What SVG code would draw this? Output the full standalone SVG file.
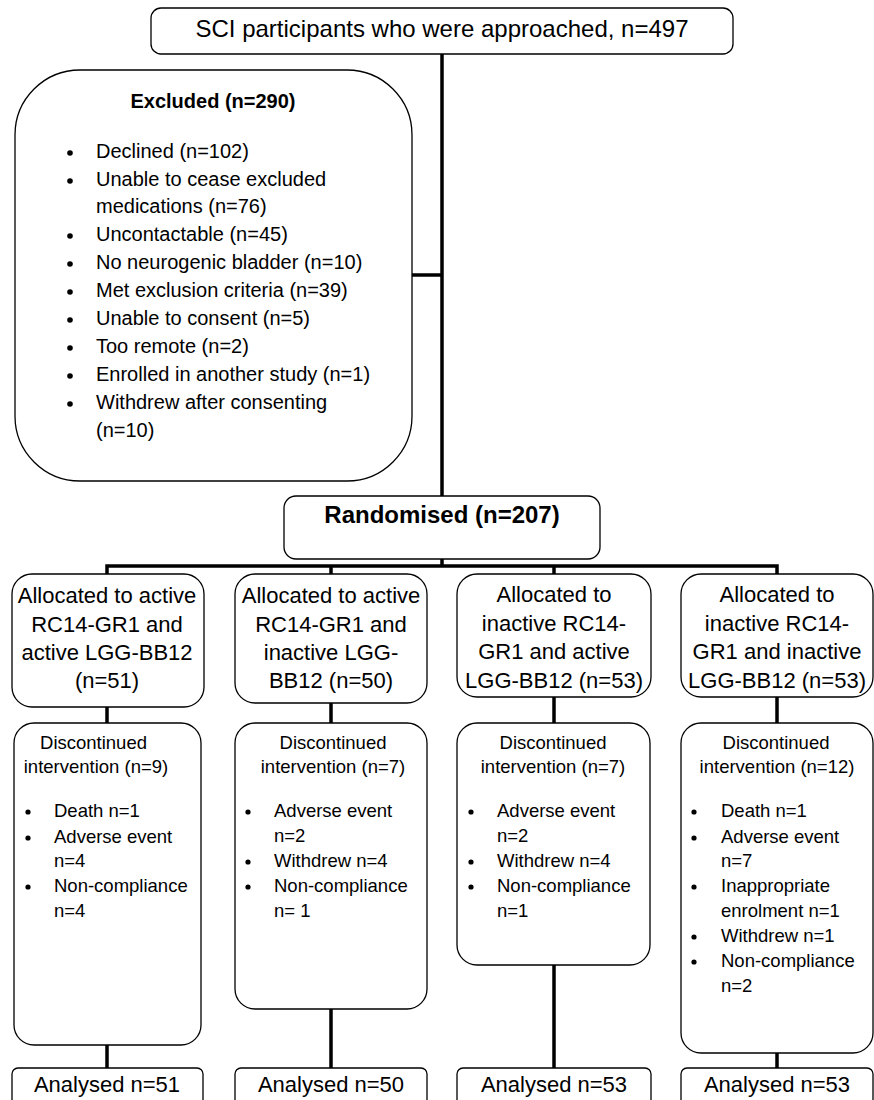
<svg xmlns="http://www.w3.org/2000/svg" width="874" height="1100" viewBox="0 0 874 1100">
<style>
  .box { fill: #fff; stroke: #000; stroke-width: 1.3; }
  .conn { stroke: #000; stroke-width: 3.5; fill: none; stroke-linecap: butt; }
  text { font-family: "Liberation Sans", Arial, sans-serif; fill: #000; }
  .t24 { font-size: 24px; }
  .b24 { font-size: 24px; font-weight: bold; }
  .b20 { font-size: 20px; font-weight: bold; }
  .t20 { font-size: 20px; }
  .t22 { font-size: 22px; }
  .t18 { font-size: 18.5px; }
  .c { text-anchor: middle; }
  .dot { fill: #000; }
</style>
<rect width="874" height="1100" fill="#fff"/>
<g id="connectors">
  <line class="conn" x1="442" y1="54" x2="442" y2="497"/>
  <line class="conn" x1="412" y1="275" x2="442" y2="275"/>
  <line class="conn" x1="442" y1="559" x2="442" y2="566"/>
  <polyline class="conn" points="107,574 107,566 777,566 777,574"/>
  <line class="conn" x1="331" y1="566" x2="331" y2="574"/>
  <line class="conn" x1="554" y1="566" x2="554" y2="574"/>
  <line class="conn" x1="107" y1="707" x2="107" y2="723"/>
  <line class="conn" x1="331" y1="703" x2="331" y2="723"/>
  <line class="conn" x1="554" y1="697" x2="554" y2="723"/>
  <line class="conn" x1="777" y1="697" x2="777" y2="723"/>
  <line class="conn" x1="107" y1="1045" x2="107" y2="1068"/>
  <line class="conn" x1="331" y1="1009" x2="331" y2="1068"/>
  <line class="conn" x1="554" y1="965" x2="554" y2="1068"/>
  <line class="conn" x1="777" y1="1053" x2="777" y2="1068"/>
</g>
<g id="approached">
  <rect class="box" x="151" y="8" width="582" height="46" rx="10"/>
  <text class="t24 c" x="442" y="37">SCI participants who were approached, n=497</text>
</g>
<g id="excluded">
  <rect class="box" x="15" y="70" width="397" height="411" rx="65"/>
  <text class="b20 c" x="213" y="108">Excluded (n=290)</text>
  <g class="t20">
    <circle class="dot" cx="70" cy="153" r="2.8"/><text x="96" y="158">Declined (n=102)</text>
    <circle class="dot" cx="70" cy="181" r="2.8"/><text x="96" y="186">Unable to cease excluded</text>
    <text x="96" y="213">medications (n=76)</text>
    <circle class="dot" cx="70" cy="236" r="2.8"/><text x="96" y="241">Uncontactable (n=45)</text>
    <circle class="dot" cx="70" cy="264" r="2.8"/><text x="96" y="269">No neurogenic bladder (n=10)</text>
    <circle class="dot" cx="70" cy="292" r="2.8"/><text x="96" y="297">Met exclusion criteria (n=39)</text>
    <circle class="dot" cx="70" cy="320" r="2.8"/><text x="96" y="325">Unable to consent (n=5)</text>
    <circle class="dot" cx="70" cy="348" r="2.8"/><text x="96" y="353">Too remote (n=2)</text>
    <circle class="dot" cx="70" cy="376" r="2.8"/><text x="96" y="381">Enrolled in another study (n=1)</text>
    <circle class="dot" cx="70" cy="404" r="2.8"/><text x="96" y="409">Withdrew after consenting</text>
    <text x="96" y="437">(n=10)</text>
  </g>
</g>
<g id="randomised">
  <rect class="box" x="284" y="496" width="316" height="63" rx="12"/>
  <text class="b24 c" x="442" y="523">Randomised (n=207)</text>
</g>
<g id="alloc1">
  <rect class="box" x="12" y="574" width="192" height="133" rx="20"/>
  <g class="t22 c">
    <text x="107" y="603">Allocated to active</text>
    <text x="107" y="632">RC14-GR1 and</text>
    <text x="107" y="660">active LGG-BB12</text>
    <text x="107" y="688">(n=51)</text>
  </g>
</g>
<g id="alloc2">
  <rect class="box" x="235" y="574" width="192" height="129" rx="20"/>
  <g class="t22 c">
    <text x="331" y="603">Allocated to active</text>
    <text x="331" y="632">RC14-GR1 and</text>
    <text x="331" y="660">inactive LGG-</text>
    <text x="331" y="688">BB12 (n=50)</text>
  </g>
</g>
<g id="alloc3">
  <rect class="box" x="457" y="574" width="194" height="123" rx="20"/>
  <g class="t22 c">
    <text x="554" y="602">Allocated to</text>
    <text x="554" y="631">inactive RC14-</text>
    <text x="554" y="659">GR1 and active</text>
    <text x="554" y="688">LGG-BB12 (n=53)</text>
  </g>
</g>
<g id="alloc4">
  <rect class="box" x="681" y="574" width="192" height="123" rx="20"/>
  <g class="t22 c">
    <text x="777" y="602">Allocated to</text>
    <text x="777" y="631">inactive RC14-</text>
    <text x="777" y="659">GR1 and inactive</text>
    <text x="777" y="688">LGG-BB12 (n=53)</text>
  </g>
</g>
<g id="disc1">
  <rect class="box" x="14" y="723" width="187" height="322" rx="20"/>
  <g class="t18">
    <text class="c" x="93.5" y="749">Discontinued</text>
    <text class="c" x="96" y="773">intervention (n=9)</text>
    <circle class="dot" cx="28" cy="812" r="2.6"/><text x="54" y="817">Death n=1</text>
    <circle class="dot" cx="28" cy="838" r="2.6"/><text x="54" y="843">Adverse event</text>
    <text x="54" y="867">n=4</text>
    <circle class="dot" cx="28" cy="887" r="2.6"/><text x="54" y="892">Non-compliance</text>
    <text x="54" y="917">n=4</text>
  </g>
</g>
<g id="disc2">
  <rect class="box" x="235" y="723" width="192" height="286" rx="20"/>
  <g class="t18">
    <text class="c" x="333" y="749">Discontinued</text>
    <text class="c" x="333" y="773">intervention (n=7)</text>
    <circle class="dot" cx="248" cy="812" r="2.6"/><text x="274" y="817">Adverse event</text>
    <text x="274" y="842">n=2</text>
    <circle class="dot" cx="248" cy="862" r="2.6"/><text x="274" y="867">Withdrew n=4</text>
    <circle class="dot" cx="248" cy="887" r="2.6"/><text x="274" y="892">Non-compliance</text>
    <text x="274" y="917">n= 1</text>
  </g>
</g>
<g id="disc3">
  <rect class="box" x="457" y="723" width="193" height="242" rx="20"/>
  <g class="t18">
    <text class="c" x="553" y="749">Discontinued</text>
    <text class="c" x="553" y="773">intervention (n=7)</text>
    <circle class="dot" cx="471" cy="812" r="2.6"/><text x="497" y="817">Adverse event</text>
    <text x="497" y="842">n=2</text>
    <circle class="dot" cx="471" cy="862" r="2.6"/><text x="497" y="867">Withdrew n=4</text>
    <circle class="dot" cx="471" cy="887" r="2.6"/><text x="497" y="892">Non-compliance</text>
    <text x="497" y="917">n=1</text>
  </g>
</g>
<g id="disc4">
  <rect class="box" x="681" y="723" width="192" height="330" rx="20"/>
  <g class="t18">
    <text class="c" x="776" y="749">Discontinued</text>
    <text class="c" x="777" y="773">intervention (n=12)</text>
    <circle class="dot" cx="694" cy="812" r="2.6"/><text x="721" y="817">Death n=1</text>
    <circle class="dot" cx="694" cy="838" r="2.6"/><text x="721" y="843">Adverse event</text>
    <text x="721" y="867">n=7</text>
    <circle class="dot" cx="694" cy="887" r="2.6"/><text x="721" y="892">Inappropriate</text>
    <text x="721" y="917">enrolment n=1</text>
    <circle class="dot" cx="694" cy="937" r="2.6"/><text x="721" y="942">Withdrew n=1</text>
    <circle class="dot" cx="694" cy="962" r="2.6"/><text x="721" y="967">Non-compliance</text>
    <text x="721" y="992">n=2</text>
  </g>
</g>
<g id="analysed1">
  <rect class="box" x="12" y="1068" width="191" height="40" rx="6"/>
  <text class="t22 c" x="107" y="1092">Analysed n=51</text>
</g>
<g id="analysed2">
  <rect class="box" x="235" y="1068" width="192" height="40" rx="6"/>
  <text class="t22 c" x="331" y="1092">Analysed n=50</text>
</g>
<g id="analysed3">
  <rect class="box" x="457" y="1068" width="194" height="40" rx="6"/>
  <text class="t22 c" x="554" y="1092">Analysed n=53</text>
</g>
<g id="analysed4">
  <rect class="box" x="681" y="1068" width="192" height="40" rx="6"/>
  <text class="t22 c" x="777" y="1092">Analysed n=53</text>
</g>
</svg>
